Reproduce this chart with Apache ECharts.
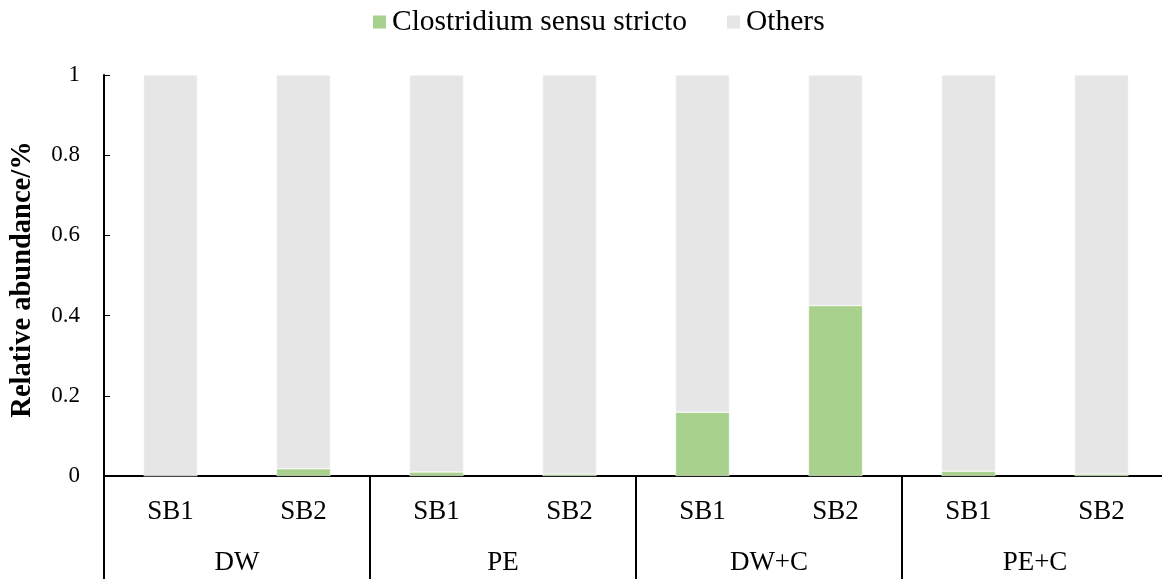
<!DOCTYPE html>
<html>
<head>
<meta charset="utf-8">
<script src="https://cdn.jsdelivr.net/npm/echarts@6/dist/echarts.min.js"></script>
<style>html,body{margin:0;padding:0;background:#fff;overflow:hidden}#c{width:1172px;height:579px}</style>
</head>
<body>
<div id="c"></div>
<script>
const samples = ['SB1','SB2','SB1','SB2','SB1','SB2','SB1','SB2'];
const groups = ['DW','PE','DW+C','PE+C'];
const clostridium = [0.001, 0.018, 0.010, 0.005, 0.159, 0.425, 0.012, 0.005];
const others = [0.999, 0.982, 0.990, 0.995, 0.841, 0.575, 0.988, 0.995];
const yTicks = [0, 0.2, 0.4, 0.6, 0.8, 1];

const font = 'Liberation Serif';
const chart = echarts.init(document.getElementById('c'));
chart.setOption({
  animation: false,
  legend: {
    top: 2, left: 366, itemWidth: 15, itemHeight: 15, itemGap: 38,
    icon: 'rect',
    textStyle: {fontFamily: font, fontSize: 29.5, color: '#000'},
    data: ['Clostridium sensu stricto', 'Others']
  },
  grid: {left: 104, top: 75, width: 1064, height: 401, containLabel: false},
  xAxis: [
    {type: 'category', data: samples, position: 'bottom',
     axisLine: {lineStyle: {color: '#000', width: 2}},
     axisTick: {show: false},
     axisLabel: {fontFamily: font, fontSize: 27, color: '#000', margin: 22}},
    {type: 'category', data: groups, position: 'bottom',
     axisLine: {show: false},
     axisTick: {show: true, length: 104, lineStyle: {color: '#000', width: 2}},
     axisLabel: {fontFamily: font, fontSize: 27, color: '#000', margin: 73}}
  ],
  yAxis: {
    type: 'value', min: yTicks[0], max: yTicks[yTicks.length-1], interval: 0.2,
    name: 'Relative abundance/%', nameLocation: 'middle', nameGap: 67,
    nameTextStyle: {fontFamily: font, fontSize: 28.5, fontWeight: 'bold', color: '#000', padding: [0, 0, 0, -8]},
    axisLine: {show: true, lineStyle: {color: '#000', width: 2}},
    axisTick: {show: true, inside: true, length: 6, lineStyle: {color: '#000', width: 1}},
    axisLabel: {fontFamily: font, fontSize: 23, color: '#000', margin: 24},
    splitLine: {show: false}
  },
  series: [
    {name: 'Clostridium sensu stricto', type: 'bar', stack: 'a', data: clostridium,
     barWidth: '40.6%', itemStyle: {color: '#A9D18E', borderColor: '#fff', borderWidth: 0.5}},
    {name: 'Others', type: 'bar', stack: 'a', data: others,
     barWidth: '40.6%', itemStyle: {color: '#E6E6E6', borderColor: '#fff', borderWidth: 0.5}}
  ]
});
</script>
</body>
</html>
